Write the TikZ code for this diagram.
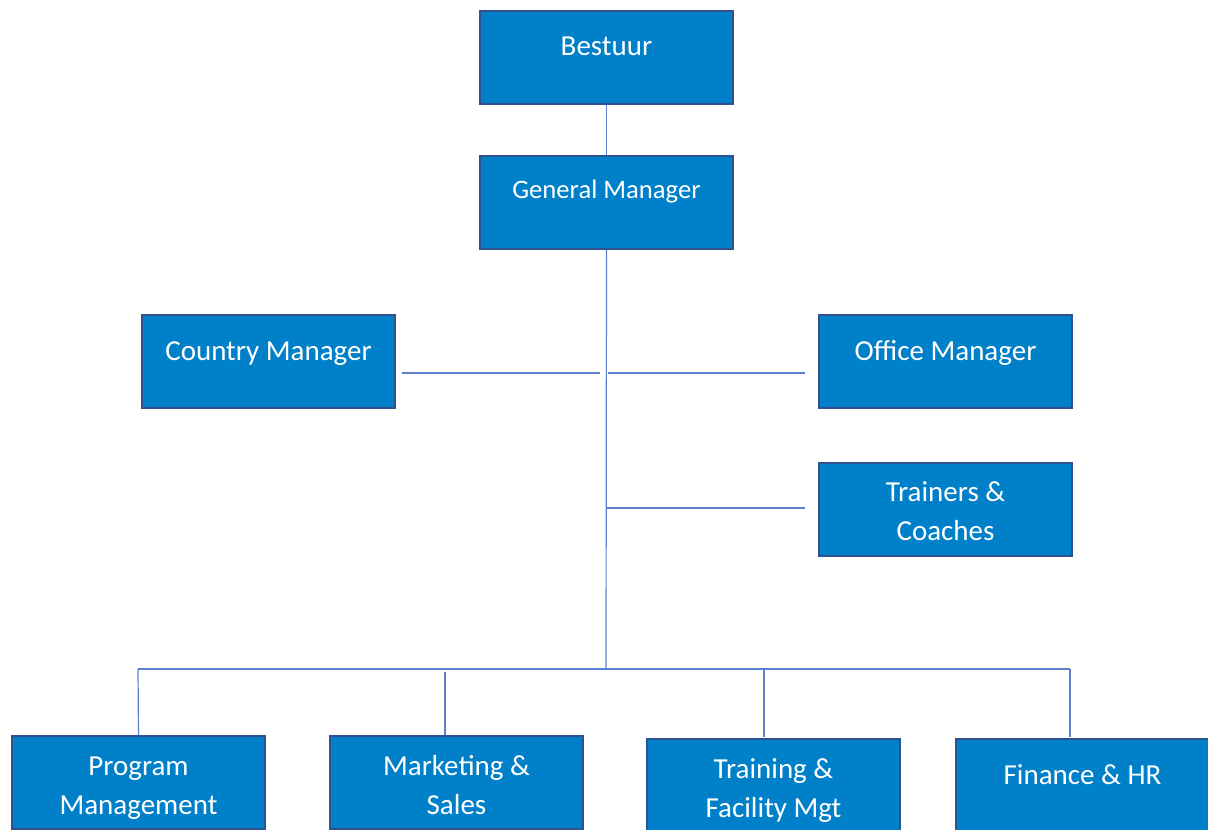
\documentclass[tikz,border=0pt]{standalone}
\usepackage{fontspec}
\setmainfont{Carlito}
\usetikzlibrary{calc}
\definecolor{boxfill}{RGB}{0,128,201}
\definecolor{boxedge}{RGB}{47,82,143}
\definecolor{linkcol}{RGB}{92,128,204}
\begin{document}
\begin{tikzpicture}[x=0.75pt,y=-0.75pt,
  unit box/.style={draw=boxedge,fill=boxfill,line width=1.5pt,
    minimum width=189.75pt,minimum height=69.75pt,inner sep=0pt,
    anchor=north west},
  lbl/.style={text=white,align=center,anchor=base,inner sep=0pt,
    font=\fontsize{21.75}{29.25}\selectfont},
  small lbl/.style={lbl,font=\fontsize{20}{24}\selectfont},
  link/.style={draw=linkcol,line width=0.9pt}]
\useasboundingbox (0,0) rectangle (1208,830);
\clip (0,0) rectangle (1208,830);

% boxes
\node[unit box] (bestuur) at (479,10)  {};
\node[unit box] (gm)      at (479,155) {};
\node[unit box] (cm)      at (141,314) {};
\node[unit box] (om)      at (818,314) {};
\node[unit box] (tc)      at (818,462) {};
\node[unit box] (pm)      at (11,735)  {};
\node[unit box] (ms)      at (329,735) {};
\node[unit box] (tf)      at (646,738) {};
\node[unit box] (fh)      at (955,738) {};

% labels (base anchor sits on the last line)
\node[lbl]       (tBestuur) at ($(bestuur.north)+(0,46)$) {Bestuur};
\node[small lbl] (tGm)      at ($(gm.north)+(0,44)$) {General Manager};
\node[lbl]       (tCm)      at ($(cm.north)+(0,47)$) {Country Manager};
\node[lbl]       (tOm)      at ($(om.north)+(0,47)$) {Office Manager};
\node[lbl]       (tTc)      at ($(tc.north)+(0,79)$) {Trainers \&\\Coaches};
\node[lbl]       (tPm)      at ($(pm.north)+(0,79)$) {Program\\Management};
\node[lbl]       (tMs)      at ($(ms.north)+(0,79)$) {Marketing \&\\Sales};
\node[lbl]       (tTf)      at ($(tf.north)+(0,79)$) {Training \&\\Facility Mgt};
\node[lbl]       (tFh)      at ($(fh.north)+(0,46)$) {Finance \& HR};

% junction points
\coordinate (trunkEnd) at (606,669);
\coordinate (cmL) at (402,373);
\coordinate (cmR) at (600,373);
\coordinate (omL) at (608,373);
\coordinate (omR) at (805,373);
\coordinate (tcL) at (606,508);
\coordinate (tcR) at (805,508);
\coordinate (busL) at (138,669);
\coordinate (busR) at (1070,669);
\coordinate (msTop) at (445,672);
\coordinate (msBot) at (445,735);
\coordinate (tfTop) at (764,670);
\coordinate (tfBot) at (764,737);
\coordinate (fhBot) at (1070,737);

% connectors
\draw[link] (bestuur.south) -- (gm.north);
\draw[link] (gm.south) -- (trunkEnd);
\draw[link] (cmL) -- (cmR);
\draw[link] (omL) -- (omR);
\draw[link] (tcL) -- (tcR);
\draw[link] (busL) -- (busR);
\draw[link] (busL) -- (pm.north);
\draw[link] (msTop) -- (msBot);
\draw[link] (tfTop) -- (tfBot);
\draw[link] (busR) -- (fhBot);
\end{tikzpicture}
\end{document}
